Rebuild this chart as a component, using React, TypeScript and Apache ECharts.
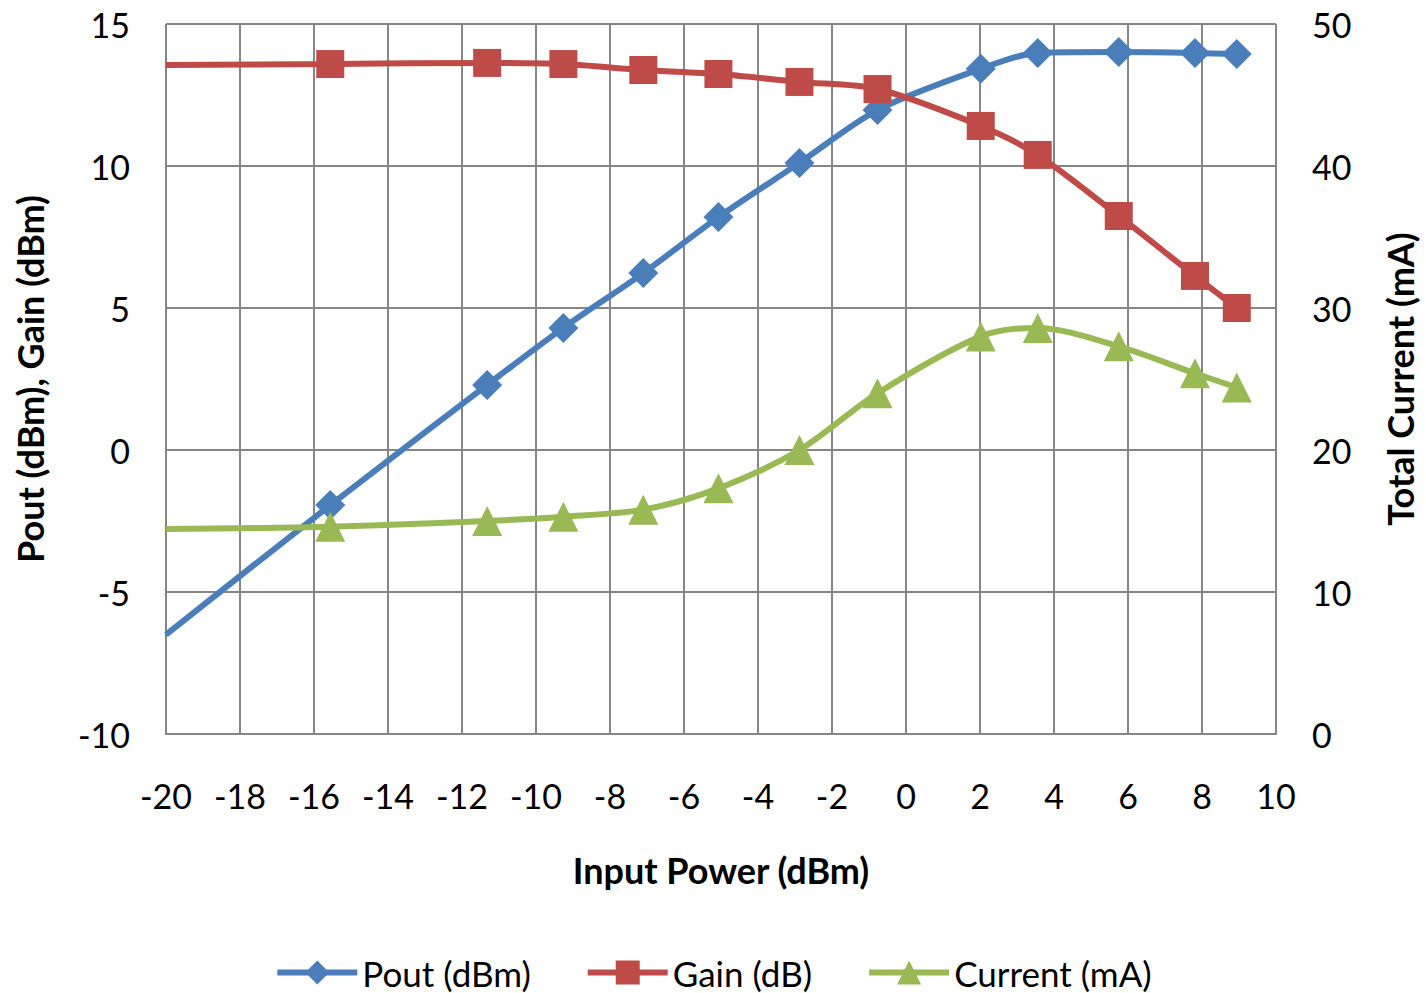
import React, { useEffect, useRef } from "react";
import * as echarts from "echarts";

const inputPower = [-20, -15.56, -11.32, -9.26, -7.1, -5.07, -2.88, -0.77, 2.02, 3.56, 5.75, 7.81, 8.94];
const pout = [-6.5, -1.94, 2.29, 4.3, 6.23, 8.2, 10.11, 11.97, 13.42, 13.98, 14.01, 13.98, 13.94];
const gain = [13.56, 13.59, 13.63, 13.59, 13.38, 13.24, 12.96, 12.71, 11.41, 10.39, 8.24, 6.13, 5.0];
const current = [14.44, 14.6, 15.0, 15.3, 15.8, 17.3, 20.0, 24.0, 28.0, 28.6, 27.3, 25.4, 24.4];

const FONT = "Lato";
const COLORS = ["#4A7EBB", "#BE4B48", "#98B954"];

function toData(ys: number[]) {
  return inputPower.map((x, i) =>
    i === 0 ? { value: [x, ys[i]], symbol: "none" } : { value: [x, ys[i]] }
  );
}

export default function App() {
  const ref = useRef<HTMLDivElement>(null);
  useEffect(() => {
    if (!ref.current) return;
    const chart = echarts.init(ref.current, null, { renderer: "svg" });
    const grid = "#868686";
    chart.setOption({
      animation: false,
      textStyle: { fontFamily: FONT },
      grid: { left: 166, right: 141, top: 24, bottom: 259 },
      legend: {
        bottom: -2,
        left: "center",
        itemWidth: 80,
        itemHeight: 30,
        itemGap: 54,
        lineStyle: { width: 6 },
        textStyle: { fontSize: 35, color: "#000", fontFamily: FONT },
        data: ["Pout (dBm)", "Gain (dB)", "Current (mA)"],
      },
      xAxis: {
        type: "value",
        min: -20,
        max: 10,
        interval: 2,
        name: "Input Power (dBm)",
        nameLocation: "middle",
        nameGap: 118,
        nameTextStyle: { fontSize: 36, fontWeight: "bold", color: "#000" },
        axisLine: { show: true, onZero: false, lineStyle: { color: grid, width: 2 } },
        axisTick: { show: false },
        axisLabel: { fontSize: 34, color: "#000", margin: 44 },
        splitLine: { show: true, lineStyle: { color: grid, width: 2 } },
      },
      yAxis: [
        {
          type: "value",
          min: -10,
          max: 15,
          interval: 5,
          name: "Pout (dBm), Gain (dBm)",
          nameLocation: "middle",
          nameGap: 118,
          nameTextStyle: { fontSize: 36, fontWeight: "bold", color: "#000" },
          axisLine: { show: true, lineStyle: { color: grid, width: 2 } },
          axisTick: { show: false },
          axisLabel: { fontSize: 34, color: "#000", margin: 36 },
          splitLine: { show: true, lineStyle: { color: grid, width: 2 } },
        },
        {
          type: "value",
          min: 0,
          max: 50,
          interval: 10,
          position: "right",
          name: "Total Current (mA)",
          nameLocation: "middle",
          nameGap: 106,
          nameTextStyle: { fontSize: 36, fontWeight: "bold", color: "#000" },
          axisLine: { show: false },
          axisTick: { show: false },
          axisLabel: { fontSize: 34, color: "#000", margin: 36 },
          splitLine: { show: false },
        },
      ],
      series: [
        {
          name: "Pout (dBm)",
          type: "line",
          yAxisIndex: 0,
          smooth: 0.3,
          symbol: "diamond",
          symbolSize: 30,
          color: COLORS[0],
          lineStyle: { width: 6, color: COLORS[0] },
          itemStyle: { color: COLORS[0] },
          data: toData(pout),
          z: 3,
        },
        {
          name: "Gain (dB)",
          type: "line",
          yAxisIndex: 0,
          smooth: 0.3,
          symbol: "rect",
          symbolSize: 28,
          color: COLORS[1],
          lineStyle: { width: 6, color: COLORS[1] },
          itemStyle: { color: COLORS[1] },
          data: toData(gain),
          z: 4,
        },
        {
          name: "Current (mA)",
          type: "line",
          yAxisIndex: 1,
          smooth: 0.3,
          symbol: "triangle",
          symbolSize: 30,
          color: COLORS[2],
          lineStyle: { width: 6, color: COLORS[2] },
          itemStyle: { color: COLORS[2] },
          data: toData(current),
          z: 5,
        },
      ],
    });
    return () => chart.dispose();
  }, []);
  return <div ref={ref} style={{ width: 1426, height: 993, position: "absolute", left: 0, top: 0 }} />;
}
